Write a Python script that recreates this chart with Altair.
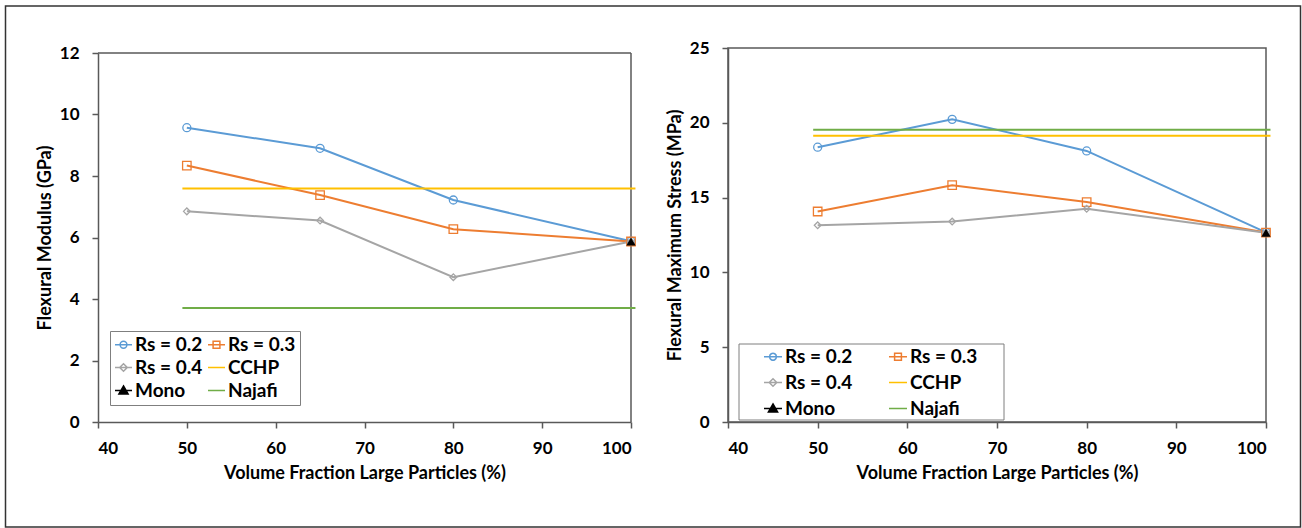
import altair as alt
import pandas as pd

# ---------------- data ----------------
X_PCT = [50, 65, 80, 100]

MOD_RS02 = [9.57, 8.90, 7.22, 5.88]
MOD_RS03 = [8.34, 7.38, 6.27, 5.87]
MOD_RS04 = [6.85, 6.55, 4.71, 5.87]
MOD_CCHP = 7.59
MOD_NAJAFI = 3.71
MOD_MONO = 5.87

STR_RS02 = [18.37, 20.23, 18.12, 12.68]
STR_RS03 = [14.07, 15.83, 14.70, 12.66]
STR_RS04 = [13.15, 13.40, 14.25, 12.65]
STR_CCHP = 19.13
STR_NAJAFI = 19.54
STR_MONO = 12.65

REF_X = [49.5, 100.5]
MONO_X = 100

X_TICKS = [40, 50, 60, 70, 80, 90, 100]
MOD_TICKS = [0, 2, 4, 6, 8, 10, 12]
STR_TICKS = [0, 5, 10, 15, 20, 25]

RS_NAMES = ["Rs = 0.2", "Rs = 0.3", "Rs = 0.4"]
RS_COLORS = ["#5B9BD5", "#ED7D31", "#A5A5A5"]
RS_SHAPES = [("circle", 64), ("square", 72), ("diamond", 45)]
CCHP_COLOR = "#FFC000"
NAJAFI_COLOR = "#70AD47"
MONO_COLOR = "#000000"

# legend entries (filled column by column: 3 rows x 2 columns)
LEG_SERIES = ["Rs = 0.2", "Rs = 0.4", "Mono", "Rs = 0.3", "CCHP", "Najafi"]
LEG_COLORS = ["#5B9BD5", "#A5A5A5", "#000000", "#ED7D31", "#FFC000", "#70AD47"]
LEG_FILLS = ["transparent", "transparent", "#000000", "transparent", "transparent", "transparent"]
LEG_KINDS = ["circle", "diamond", "triangle", "square", "line", "line"]

X_TITLE = "Volume Fraction Large Particles (%)"
AX = "#595959"
LEG_BORDER = "#7f7f7f"
FONT = "Lato"


def legend_symbols(total_w, lead):
    h = total_w / 2.0
    x0 = -1 + lead / h
    xc = (x0 + 1) / 2

    def u(px):
        return px / h

    line = f"M{x0:.4f},0L1,0"
    r = u(3.4)
    s = u(3.4)
    d = u(3.8)
    t = u(4.6)
    paths = {
        "line": line,
        "circle": line + (f"M{xc + r:.4f},0A{r:.4f},{r:.4f},0,1,1,{xc - r:.4f},0"
                          f"A{r:.4f},{r:.4f},0,1,1,{xc + r:.4f},0Z"),
        "square": line + (f"M{xc - s:.4f},{-s:.4f}L{xc + s:.4f},{-s:.4f}"
                          f"L{xc + s:.4f},{s:.4f}L{xc - s:.4f},{s:.4f}Z"),
        "diamond": line + f"M{xc:.4f},{-d:.4f}L{xc + d:.4f},0L{xc:.4f},{d:.4f}L{xc - d:.4f},0Z",
        "triangle": line + (f"M{xc:.4f},{-t:.4f}L{xc + t:.4f},{t * 0.75:.4f}"
                            f"L{xc - t:.4f},{t * 0.75:.4f}Z"),
    }
    return [paths[k] for k in LEG_KINDS]


def panel(rs_lists, cchp, najafi, mono, y_ticks, y_title, width, height,
          y_scale, legend, sym_w, sym_lead, left_panel, legend_box=None):
    x_scale = alt.Scale(domain=[40, 100], nice=False, zero=False)
    x_enc = alt.X("x:Q", scale=x_scale,
                  axis=alt.Axis(values=X_TICKS, labelPadding=12, titlePadding=8),
                  title=X_TITLE)
    y_enc = alt.Y("y:Q", scale=y_scale,
                  axis=alt.Axis(values=y_ticks, labelPadding=13, titlePadding=5),
                  title=y_title)

    layers = []
    one = pd.DataFrame({"k": [0]})
    if left_panel:
        frame = alt.Chart(one).mark_rect(fillOpacity=0, stroke="#333333", strokeWidth=1.5).encode(
            x=alt.value(-92.5), x2=alt.value(1202.5), y=alt.value(-42), y2=alt.value(479))
        top_rule = alt.Chart(one).mark_rule(color=AX, strokeWidth=1.5).encode(
            x=alt.XDatum(40, scale=x_scale), x2=alt.X2Datum(100),
            y=alt.YDatum(y_ticks[-1], scale=y_scale))
        right_rule = alt.Chart(one).mark_rule(color=AX, strokeWidth=1.5).encode(
            x=alt.XDatum(100, scale=x_scale),
            y=alt.YDatum(0, scale=y_scale), y2=alt.Y2Datum(y_ticks[-1]))
        layers += [frame, top_rule, right_rule]
        view = alt.ViewBackground(stroke="transparent")
    else:
        view = alt.ViewBackground(stroke=AX, strokeWidth=1.5)

    # Rs series: lines then hollow markers
    for vals, color in zip(rs_lists, RS_COLORS):
        df = pd.DataFrame({"x": X_PCT, "y": vals})
        layers.append(alt.Chart(df).mark_line(strokeWidth=2, color=color).encode(x=x_enc, y=y_enc))
    for vals, color, (shp, sz) in zip(rs_lists, RS_COLORS, RS_SHAPES):
        df = pd.DataFrame({"x": X_PCT, "y": vals})
        layers.append(
            alt.Chart(df).mark_point(shape=shp, size=sz, filled=False, strokeWidth=1.3,
                                     opacity=1, color=color).encode(x=x_enc, y=y_enc))
    # reference lines
    for val, color in ((cchp, CCHP_COLOR), (najafi, NAJAFI_COLOR)):
        df = pd.DataFrame({"x": REF_X, "y": [val] * len(REF_X)})
        layers.append(alt.Chart(df).mark_line(strokeWidth=2, color=color).encode(x=x_enc, y=y_enc))
    # mono
    df_mono = pd.DataFrame({"x": [MONO_X], "y": [mono]})
    layers.append(alt.Chart(df_mono).mark_point(shape="triangle-up", size=85, filled=True,
                                                color=MONO_COLOR, opacity=1).encode(x=x_enc, y=y_enc))
    # legend frame drawn separately (wide horizontal margins as in the original)
    if legend_box is not None:
        bx0, bx1, by0, by1 = legend_box
        layers.append(
            alt.Chart(one).mark_rect(fill="white", stroke=LEG_BORDER, strokeWidth=1).encode(
                x=alt.value(bx0), x2=alt.value(bx1), y=alt.value(by0), y2=alt.value(by1)))
    # legend carrier (no marks drawn)
    stroke_scale = alt.Scale(domain=LEG_SERIES, range=LEG_COLORS)
    fill_scale = alt.Scale(domain=LEG_SERIES, range=LEG_FILLS)
    shape_scale = alt.Scale(domain=LEG_SERIES, range=legend_symbols(sym_w, sym_lead))
    df_leg = pd.DataFrame({"series": LEG_SERIES})
    layers.append(
        alt.Chart(df_leg).transform_filter("false")
        .mark_point(filled=True, strokeWidth=1.5, opacity=1).encode(
            stroke=alt.Stroke("series:N", scale=stroke_scale, legend=legend),
            fill=alt.Fill("series:N", scale=fill_scale, legend=legend),
            shape=alt.Shape("series:N", scale=shape_scale, legend=legend),
        ))
    return alt.layer(*layers).properties(width=width, height=height, view=view)


left_legend = alt.Legend(
    title=None, orient="none", legendX=12, legendY=283, columns=2,
    columnPadding=4, rowPadding=3, padding=4,
    strokeColor=LEG_BORDER, fillColor="white",
    labelFont=FONT, labelFontSize=19, labelFontWeight="bold", labelColor="black",
    labelOffset=2, symbolSize=289, symbolStrokeWidth=1.5, symbolOpacity=1, clipHeight=19,
)
right_legend = alt.Legend(
    title=None, orient="none", legendX=11, legendY=296, columns=2,
    columnPadding=14, rowPadding=6, padding=3,
    strokeColor="transparent", fillColor="transparent",
    labelFont=FONT, labelFontSize=19, labelFontWeight="bold", labelColor="black",
    labelOffset=2, symbolSize=1521, symbolStrokeWidth=1.5, symbolOpacity=1, clipHeight=19,
)

left = panel([MOD_RS02, MOD_RS03, MOD_RS04], MOD_CCHP, MOD_NAJAFI, MOD_MONO,
             MOD_TICKS, "Flexural Modulus (GPa)", 533, 374,
             alt.Scale(domain=[0, 12], range=[374, 5], nice=False),
             left_legend, 17, 0, True)
right = panel([STR_RS02, STR_RS03, STR_RS04], STR_CCHP, STR_NAJAFI, STR_MONO,
              STR_TICKS, "Flexural Maximum Stress (MPa)", 538, 374,
              alt.Scale(domain=[0, 25], nice=False),
              right_legend, 39, 21, False, legend_box=(11, 276, 296, 372))

chart = (
    alt.hconcat(left, right, spacing=97, bounds="flush")
    .resolve_scale(x="independent", y="independent", stroke="independent",
                   fill="independent", shape="independent")
    .resolve_legend(stroke="independent", fill="independent", shape="independent")
    .properties(padding={"left": 4, "top": 4, "right": 0, "bottom": 0}, background="white")
    .configure_axis(
        domainColor=AX, domainWidth=1.5, tickColor=AX, tickWidth=1.5, tickSize=6,
        labelFont=FONT, labelFontSize=17, labelFontWeight="bold", labelColor="black",
        titleFont=FONT, titleFontSize=18, titleFontWeight="bold", titleColor="black",
        grid=False,
    )
)

chart.save("out.html", embed_options={"renderer": "svg", "actions": False})
